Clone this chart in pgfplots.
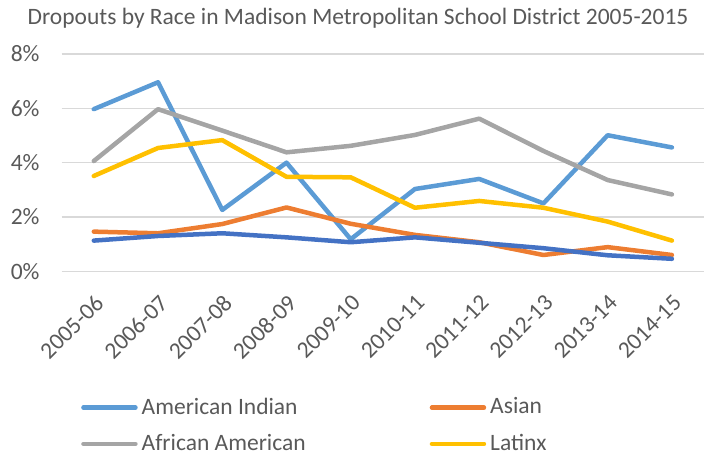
\documentclass[border=0pt]{standalone}
\usepackage{pgfplots}
\pgfplotsset{compat=1.18}
\usepackage{fontspec}
\setmainfont{Carlito}
\definecolor{cAI}{HTML}{5B9BD5}
\definecolor{cAS}{HTML}{ED7D31}
\definecolor{cAA}{HTML}{A5A5A5}
\definecolor{cLA}{HTML}{FFC000}
\definecolor{cWH}{HTML}{4472C4}
\definecolor{txt}{HTML}{595959}
\definecolor{grd}{HTML}{D9D9D9}
\begin{document}
\fontsize{23.5bp}{28bp}\selectfont
\begin{tikzpicture}
\useasboundingbox (0,0) rectangle (705bp,456bp);
\node[anchor=base west, inner sep=0, text=txt] at (27.5bp,431bp) {Dropouts by Race in Madison Metropolitan School District 2005-2015};
\begin{axis}[
  at={(61.7bp,184.7bp)}, anchor=south west,
  scale only axis, width=642.3bp, height=217.3bp,
  xmin=-0.5, xmax=9.5, ymin=0, ymax=8,
  axis line style={draw=none},
  major tick length=0pt,
  ytick={0,2,4,6,8},
  yticklabels={0\%,2\%,4\%,6\%,8\%},
  ymajorgrids, grid style={grd, line width=1.5bp},
  xtick={0,...,9},
  xticklabels={2005-06,2006-07,2007-08,2008-09,2009-10,2010-11,2011-12,2012-13,2013-14,2014-15},
  xticklabel shift=22bp,
  xticklabel style={rotate=45, anchor=north east, inner sep=0pt, text=txt},
  yticklabel style={text=txt, anchor=east, inner sep=0pt, xshift=-22bp},
  every axis plot/.append style={line width=4.5bp, line join=round, line cap=round},
  legend columns=2,
  legend cell align=left,
  legend style={draw=none, fill=none, text=txt, at={(axis description cs:0.0254,-0.567)}, anchor=north west,
    nodes={inner sep=1bp},
    row sep=14.5bp,
    /tikz/every odd column/.append style={column sep=3bp},
    /tikz/every even column/.append style={column sep=123bp}},
  legend image code/.code={\draw[#1, line width=4.5bp, line cap=round] (0bp,0bp) -- (52bp,0bp);},
]
\addplot[cAI] coordinates {(0,5.97) (1,6.96) (2,2.26) (3,4.00) (4,1.18) (5,3.03) (6,3.40) (7,2.50) (8,5.01) (9,4.56)};
\addlegendentry{American Indian}
\addplot[cAS] coordinates {(0,1.46) (1,1.40) (2,1.74) (3,2.35) (4,1.75) (5,1.34) (6,1.07) (7,0.60) (8,0.89) (9,0.60)};
\addlegendentry{Asian}
\addplot[cAA] coordinates {(0,4.06) (1,5.97) (2,5.18) (3,4.38) (4,4.62) (5,5.02) (6,5.62) (7,4.43) (8,3.36) (9,2.83)};
\addlegendentry{African American}
\addplot[cLA] coordinates {(0,3.51) (1,4.54) (2,4.83) (3,3.48) (4,3.46) (5,2.34) (6,2.59) (7,2.34) (8,1.83) (9,1.13)};
\addlegendentry{Latinx}
\addplot[cWH, forget plot] coordinates {(0,1.13) (1,1.30) (2,1.40) (3,1.25) (4,1.07) (5,1.25) (6,1.05) (7,0.85) (8,0.59) (9,0.46)};
\end{axis}
\end{tikzpicture}
\end{document}
